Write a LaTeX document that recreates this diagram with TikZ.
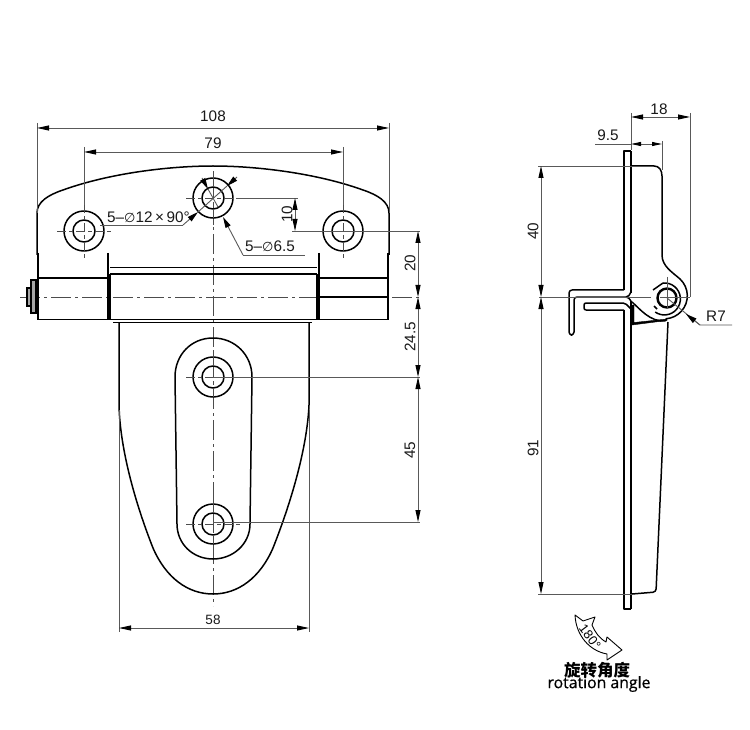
\documentclass[tikz,border=0pt]{standalone}
\usepackage{fontspec}
\setmainfont{Liberation Sans}
\newfontfamily\symfont{DejaVu Sans}
\newfontfamily\cjkfont{Noto Sans CJK SC}
\newfontfamily\latfont[FakeBold=0.6]{Open Sans}
\usetikzlibrary{arrows.meta}
\newcommand{\dia}{{\symfont\fontsize{13}{14}\selectfont ∅}}
\tikzset{
  x=1pt,y=-1pt,
  outline/.style={draw=black,line width=1.5pt,line join=round},
  heavy/.style={draw=black,line width=2.8pt},
  thinline/.style={draw=black,line width=1pt},
  dimline/.style={draw=black!65,line width=0.9pt},
  centerline/.style={draw=black!70,line width=0.8pt,dash pattern=on 20pt off 4pt on 3pt off 4pt},
  holecross/.style={draw=black!70,line width=0.7pt,dash pattern=on 9pt off 3pt on 4pt off 3pt},
  dimboth/.style={dimline,{Stealth[length=12pt,width=5pt,inset=0pt,color=black]}-{Stealth[length=12pt,width=5pt,inset=0pt,color=black]}},
  dimend/.style={dimline,-{Stealth[length=11pt,width=5.5pt,inset=0pt,color=black]}},
  lab/.style={font=\fontsize{15.3}{16}\selectfont,inner sep=0pt,text=black!90},
  smalllab/.style={font=\fontsize{13.5}{14}\selectfont,inner sep=0pt,text=black!90},
}
\begin{document}
\begin{tikzpicture}
\useasboundingbox (0,0) rectangle (750,730);
\fill[white] (0,0) rectangle (750,730);

% ---------- centre lines, left view
\path[centerline] (213,172) -- (213,606);
\path[centerline] (20,297) -- (420,297);

% ---------- upper plate
\path[outline] (37,255) -- (37,213) .. controls (37,202) and (48,195) .. (63,190)
  .. controls (110,173) and (170,166) .. (213,166)
  .. controls (256,166) and (316,173) .. (363,190)
  .. controls (378,195) and (389,202) .. (389,213) -- (389,255);

% ---------- holes
\foreach \hx/\hy in {84/231,343/231,213/198,213/377,213/524}{
  \path[outline] (\hx,\hy) circle[radius=20pt];
  \path[outline] (\hx,\hy) circle[radius=11pt];
  \path[holecross] (\hx-27,\hy) -- (\hx+27,\hy);
  \path[holecross] (\hx,\hy-27) -- (\hx,\hy+27);
}

% ---------- hinge barrel
\path[heavy] (38,253) -- (38,319);
\path[heavy] (388,253) -- (388,319);
\path[outline] (108,253) -- (108,319);
\path[outline] (319,253) -- (319,319);
\path[heavy] (110,274) -- (110,319);
\path[heavy] (317,274) -- (317,319);
\path[outline] (37,278) -- (108,278);
\path[outline] (319,278) -- (389,278);
\path[thinline] (110,268) -- (317,268);
\path[outline] (110,274) -- (317,274);
\path[outline] (37,319.5) -- (389,319.5);
\path[outline] (319,297) -- (389,297);
\path[thinline] (113,322) -- (312,322);
% pin head
\path[draw=black,line width=1.1pt,fill=black!35] (31,280) rectangle (36,313);
\path[draw=black,line width=1.1pt,fill=black!35] (27,288) rectangle (31,306);

% ---------- lower leaf
\path[outline] (119,322) -- (119,405) .. controls (120,450) and (136,505) .. (153,548)
  .. controls (166,578) and (188,594) .. (213,594)
  .. controls (238,594) and (260,578) .. (273,548)
  .. controls (290,505) and (307,450) .. (309,405) -- (309,322);
\path[outline] (175,377) .. controls (175,355) and (191,338) .. (213,338)
  .. controls (235,338) and (252,355) .. (252,377)
  -- (250,524) .. controls (250,544) and (233,559) .. (213,559)
  .. controls (193,559) and (177,544) .. (177,524) -- cycle;

% ---------- dimensions, left view
\path[dimline] (37,123) -- (37,213);
\path[dimline] (389,123) -- (389,213);
\path[dimboth] (37,128) -- (389,128);
\node[lab] (t108) at (213,116) {108};
\path[dimline] (84,147) -- (84,205);
\path[dimline] (343,147) -- (343,205);
\path[dimboth] (84,152) -- (343,152);
\node[lab] (t79) at (213,143) {79};

\path[dimline] (236,198) -- (298,198);
\path[dimline] (292,231) -- (420,231);
\path[dimboth] (295,198) -- (295,231);
\node[lab,rotate=90] (t10) at (287,214) {10};

\path[dimline] (213,377) -- (420,377);
\path[dimline] (213,522) -- (420,522);
\path[dimboth] (418,231) -- (418,297);
\path[dimboth] (418,297) -- (418,377);
\path[dimboth] (418,377) -- (418,522);
\node[lab,rotate=90] (t20) at (410,263) {20};
\node[lab,rotate=90] (t245) at (410,337) {24.5};
\node[lab,rotate=90] (t45) at (410,450) {45};

\path[dimline] (119,410) -- (119,632);
\path[dimline] (309,410) -- (309,632);
\path[dimboth] (119,628) -- (309,628);
\node[smalllab] (t58) at (213,620) {58};

% leaders
\path[dimline] (100,225) -- (183,225);
\path[dimend] (183,225) -- (198,212);
\path[dimend] (237,177) -- (227,186);
\path[dimline] (198,212) -- (227,186);
\node[lab,anchor=west] (t12) at (107,217) {5–\dia12\,×\,90°};
\path[dimend] (202,178) -- (208,189);
\path[dimline] (208,189) -- (218,207);
\path[dimend] (243,255) -- (223,217);
\path[dimline] (243,255) -- (305,255);
\node[lab,anchor=west] (t65) at (245,246) {5–\dia6.5};

% ---------- side view
\path[outline] (624,290) -- (624,151) -- (631,151);
\path[heavy] (631,151) -- (631,293);
\path[heavy] (631,301) -- (631,609);
\path[outline] (624,310) -- (624,609) -- (631,609);
\path[outline,rounded corners=3pt] (624,290) -- (569,290) -- (569,335) -- (574,335) -- (574,297) -- (626,297);
\path[outline] (626,297) .. controls (628,297) and (630,295) .. (631,292);
\path[outline] (626,297) .. controls (628,297) and (630,299) .. (631,301);
\path[outline,rounded corners=2pt] (624,310) -- (584,310) -- (584,303) -- (625,303) -- (631,309);

% upper side profile
\path[outline] (632,166) -- (654,166) .. controls (659,166) and (662,170) .. (662,176)
  -- (662,255) .. controls (662,266) and (672,272) .. (680,279)
  arc[start angle=47,end angle=-85,radius=23pt]
  -- (665,321) .. controls (650,322) and (640,309) .. (632,302);
\path[outline] (663,283) arc[start angle=95,end angle=-125,radius=16pt];
\path[outline] (653,290) -- (663,283);
\path[outline] (657,309) -- (654,306);
\path[draw=black,line width=2.4pt] (667,298) circle[radius=9.5pt];

% lower side profile
\path[draw=black,fill=black] (632,305) -- (632,325) -- (667,320.5) -- (667,319) -- (634,322.5) -- (634,305) -- cycle;
\path[outline,rounded corners=3pt] (668,322) -- (656,592) -- (632,594);

% side view centre marks
\path[dimline] (667,277) -- (667,308);
\path[dimline] (539,297) -- (651,297);
\path[dimline] (660,297) -- (690,297);

% side dimensions
\path[dimline] (631,113) -- (631,150);
\path[dimline] (690,113) -- (690,297);
\path[dimboth] (631,117) -- (690,117);
\node[lab] (t18) at (659,109) {18};
\path[dimline] (662,141) -- (662,170);
\path[dimline] (595,144) -- (631,144);
\path[dimline,{Stealth[length=10pt,width=4pt,inset=0pt,color=black]}-{Stealth[length=10pt,width=4pt,inset=0pt,color=black]}] (631,144) -- (662,144);
\node[lab] (t95) at (608,135) {9.5};

\path[dimline] (538,166) -- (632,166);
\path[dimline] (538,594) -- (632,594);
\path[dimboth] (541,166) -- (541,297);
\path[dimboth] (541,297) -- (541,594);
\node[lab,rotate=90] (t40) at (533,231) {40};
\node[lab,rotate=90] (t91) at (533,448) {91};

% R7
\path[dimline] (667,298) -- (700,325) -- (732,325);
\path[dimend] (700,325) -- (686,314);
\node[lab] (tr7) at (716,316) {R7};

% ---------- rotation symbol
\path[draw=black,line width=0.9pt,fill=white,line join=round]
  (575,615) -- (583,621) -- (595,617) -- (592,625)
  .. controls (595,632) and (599,638) .. (606,642)
  -- (607,637) -- (622,650) -- (607,660) -- (607,654)
  .. controls (590,651) and (576,636) .. (575,615) -- cycle;
\node[inner sep=0pt,rotate=-53,font=\fontsize{13}{14}\selectfont] (t180) at (590,637) {180°};
\node[inner sep=0pt,font=\cjkfont\bfseries\fontsize{16.5}{17}\selectfont] (tcn) at (597,670) {旋转角度};
\node[inner sep=0pt,font=\latfont\fontsize{15.8}{16}\selectfont] (ten) at (599,684) {rotation angle};
\end{tikzpicture}
\end{document}
